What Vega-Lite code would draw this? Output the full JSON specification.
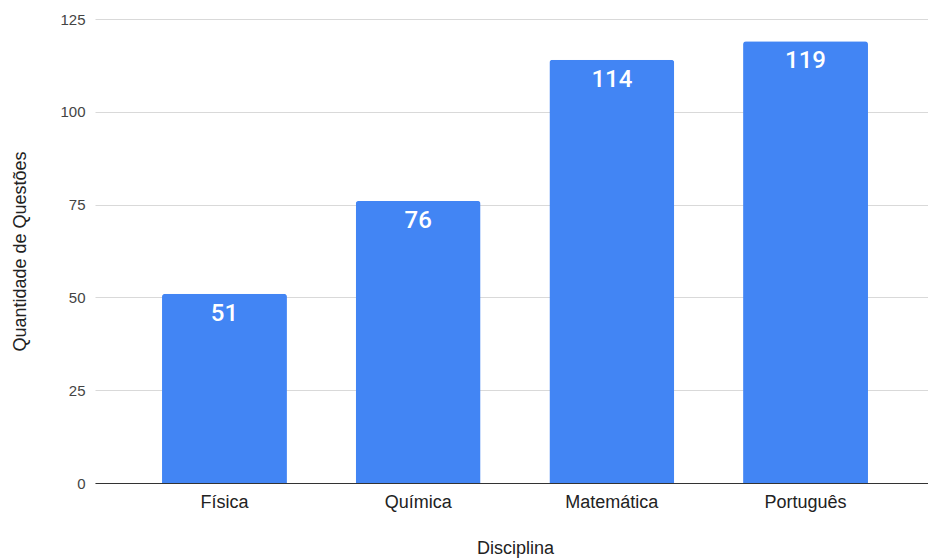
{
  "$schema": "https://vega.github.io/schema/vega-lite/v6.json",
  "autosize": {"type": "none"},
  "padding": {"left": 95, "top": 19, "right": -7, "bottom": 76},
  "width": 840,
  "height": 464,
  "background": "white",
  "config": {"view": {"stroke": null}, "font": "Liberation Sans"},
  "data": {"values": [
    {"Disciplina": "Física", "Quantidade": 51},
    {"Disciplina": "Química", "Quantidade": 76},
    {"Disciplina": "Matemática", "Quantidade": 114},
    {"Disciplina": "Português", "Quantidade": 119}
  ]},
  "encoding": {
    "x": {"field": "Disciplina", "type": "nominal", "sort": null,
      "scale": {"paddingInner": 0.355, "paddingOuter": 0.346},
      "axis": {"title": "Disciplina", "labelAngle": 0, "labelFontSize": 18, "labelColor": "#222", "labelPadding": 10, "ticks": false, "domainColor": "#333", "titleFontSize": 18, "titleFontWeight": "normal", "titleColor": "#222", "titlePadding": 28}},
    "y": {"field": "Quantidade", "type": "quantitative",
      "scale": {"domain": [0, 125]},
      "axis": {"title": "Quantidade de Questões", "values": [0, 25, 50, 75, 100, 125], "labelFontSize": 15, "labelColor": "#444", "labelPadding": 10, "ticks": false, "domain": false, "gridColor": "#d9d9d9", "titleFontSize": 18, "titleFontWeight": "normal", "titleColor": "#222", "titlePadding": 30}}
  },
  "layer": [
    {"mark": {"type": "bar", "color": "#4285F4", "cornerRadiusTopLeft": 3, "cornerRadiusTopRight": 3}},
    {"mark": {"type": "text", "color": "white", "baseline": "top", "dy": 8, "font": "Roboto", "fontSize": 24, "fontWeight": 500},
     "encoding": {"text": {"field": "Quantidade", "type": "quantitative"}}}
  ]
}
